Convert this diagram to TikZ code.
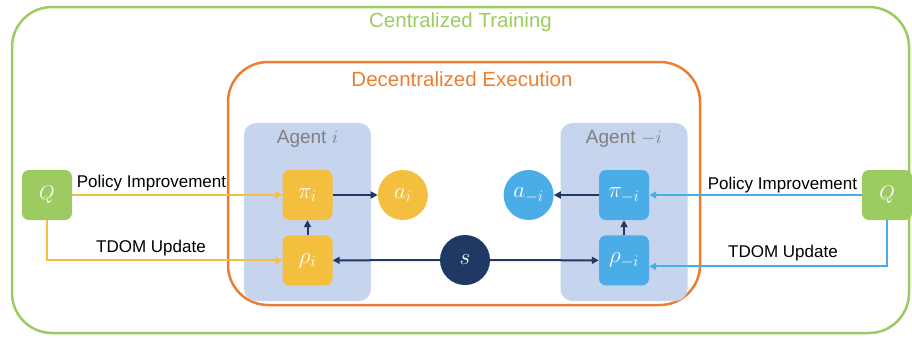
\RequirePackage{fix-cm}
\documentclass[tikz,border=0pt]{standalone}
\usepackage{fontspec}
\setmainfont{Liberation Sans}
\usetikzlibrary{arrows.meta, positioning}
\definecolor{ctgreen}{HTML}{9CCB62}
\definecolor{deorange}{HTML}{ED7D31}
\definecolor{agentblue}{HTML}{C6D4EE}
\definecolor{agyellow}{HTML}{F4BE3F}
\definecolor{agblue}{HTML}{4AADE8}
\definecolor{navy}{HTML}{203864}
\tikzset{
  trainbox/.style = {rectangle, rounded corners=40pt, draw=ctgreen, line width=2.5pt, minimum width=897pt, minimum height=326pt},
  execbox/.style = {rectangle, rounded corners=40pt, draw=deorange, line width=2.5pt, minimum width=472pt, minimum height=243pt},
  agentbox/.style = {rectangle, rounded corners=12pt, fill=agentblue, minimum width=127pt, minimum height=178pt},
  netbox/.style = {rectangle, rounded corners=7pt, minimum size=50pt, inner sep=0pt, text=white, font=\fontsize{23}{26}\selectfont},
  actnode/.style = {circle, minimum size=50pt, inner sep=0pt, text=white, font=\fontsize{23}{26}\selectfont},
  qbox/.style = {rectangle, rounded corners=7pt, minimum size=50pt, inner sep=0pt, fill=ctgreen, text=white, font=\fontsize{20}{24}\selectfont},
  title/.style = {font=\fontsize{20.5}{24}\selectfont},
  agenttitle/.style = {text=black!50, font=\fontsize{19}{22}\selectfont},
  tag/.style = {font=\fontsize{17}{20}\selectfont},
  flow/.style = {-{Triangle[length=7pt,width=7pt]}, line width=2pt}
}
\begin{document}
\begin{tikzpicture}[x=1pt, y=-1pt, node distance=15pt and 45pt]
\useasboundingbox (0,0) rectangle (912,338);

% Frames
\node[trainbox] (train) at (460.5,170) {};
\node[title, text=ctgreen] (traintitle) at (460.5,22) {Centralized Training};
\node[execbox] (exec) at (464,183.5) {};
\node[title, text=deorange] (exectitle) at (462,79) {Decentralized Execution};

% Agent i
\node[agentbox] (agi) at (307.5,212) {};
\node[agenttitle] (agilabel) at (307.5,139) {Agent $i$};
\node[netbox, fill=agyellow] (pii) at (307.5,195) {$\pi_i$};
\node[netbox, fill=agyellow, below=of pii] (rhoi) {$\rho_i$};
\node[actnode, fill=agyellow, right=of pii] (ai) {$a_i$};

% Agent -i
\node[agentbox] (agm) at (624,212) {};
\node[agenttitle] (agmlabel) at (624,139) {Agent $-i$};
\node[netbox, fill=agblue] (pim) at (624,195) {$\pi_{-i}$};
\node[netbox, fill=agblue, below=of pim] (rhom) {$\rho_{-i}$};
\node[actnode, fill=agblue, left=of pim] (am) {$a_{-i}$};

% State
\node[actnode, fill=navy] (s) at (465,260) {$s$};

% Critics
\node[qbox] (ql) at (47,195) {$Q$};
\node[qbox] (qr) at (887,195) {$Q$};

% Labels
\node[tag] (pil) at (151.5,183) {Policy Improvement};
\node[tag] (tdl) at (151,248) {TDOM Update};
\node[tag] (pir) at (782.5,185) {Policy Improvement};
\node[tag] (tdr) at (783,253) {TDOM Update};

% Arrows
\draw[flow, navy] (pii) -- (ai);
\draw[flow, navy] (rhoi) -- (pii);
\draw[flow, navy] (s) -- (rhoi);
\draw[flow, navy] (s) -- (rhom);
\draw[flow, navy] (pim) -- (am);
\draw[flow, navy] (rhom) -- (pim);

\draw[flow, agyellow] (ql) -- (pii);
\draw[flow, agyellow] (ql) |- (rhoi);
\draw[flow, agblue] (qr) -- (pim);
\draw[flow, agblue] (qr) |- ([yshift=-6pt]rhom.east);

\end{tikzpicture}
\end{document}
